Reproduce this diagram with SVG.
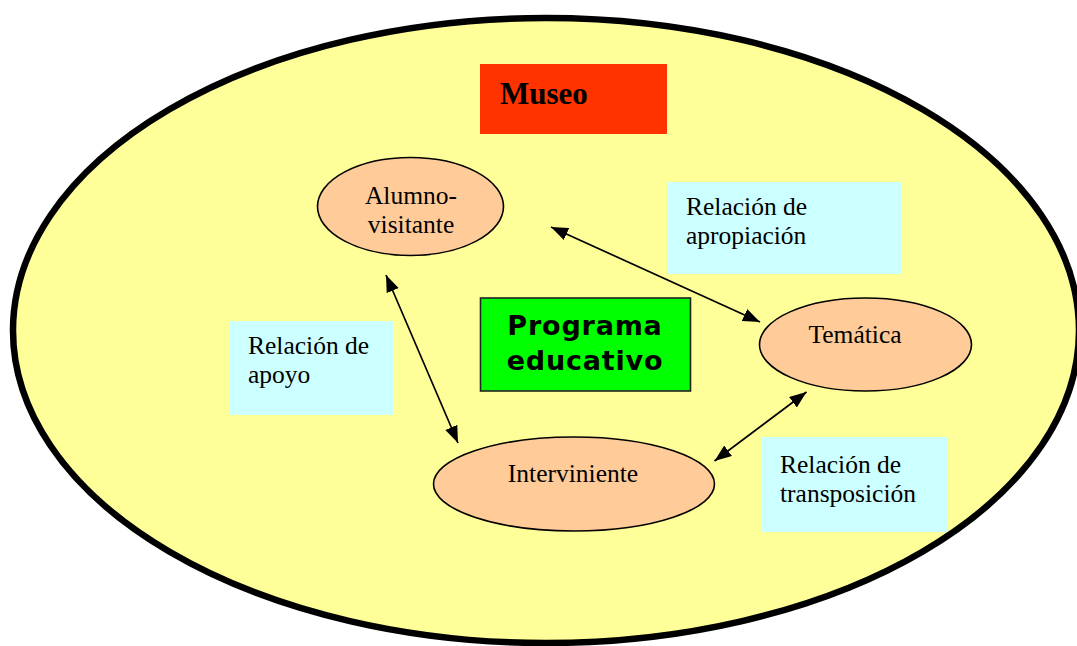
<svg xmlns="http://www.w3.org/2000/svg" width="1077" height="646" viewBox="0 0 1077 646">
<defs>
<style>
.serif{font-family:"Liberation Serif","Times New Roman",serif;font-size:25.5px;fill:#000}
.box{fill:#CCFFFF}
.node{fill:#FFCC99;stroke:#000;stroke-width:1.6}
.conn{stroke:#000;stroke-width:1.7;fill:none;marker-start:url(#ah);marker-end:url(#ah)}
</style>
<marker id="ah" markerUnits="userSpaceOnUse" markerWidth="19" markerHeight="14" refX="17" refY="6.5" orient="auto-start-reverse">
<path d="M0,0 L17,6.5 L0,13 Z" fill="#000"/>
</marker>
</defs>
<rect width="1077" height="646" fill="#fff"/>
<g id="museo-area">
<ellipse cx="546" cy="330.5" rx="533" ry="312.5" fill="#FFFF99" stroke="#000" stroke-width="6.5"/>
</g>
<g id="museo">
<rect x="480" y="64" width="187" height="70" fill="#FF3300"/>
<text x="500" y="104" font-family="Liberation Serif,Times New Roman,serif" font-weight="bold" font-size="31">Museo</text>
</g>
<g id="alumno">
<ellipse class="node" cx="410.5" cy="206.5" rx="93" ry="49"/>
<text class="serif" x="411" y="204" text-anchor="middle">Alumno-</text>
<text class="serif" x="411" y="233" text-anchor="middle">visitante</text>
</g>
<g id="programa">
<rect x="480.5" y="298" width="210" height="93" fill="#00FF00" stroke="#222" stroke-width="1.6"/>
<text x="585" y="335" text-anchor="middle" font-family="DejaVu Sans,Verdana,sans-serif" font-weight="bold" font-size="27" letter-spacing="0.8">Programa</text>
<text x="585" y="370" text-anchor="middle" font-family="DejaVu Sans,Verdana,sans-serif" font-weight="bold" font-size="27" letter-spacing="0.8">educativo</text>
</g>
<g id="tematica">
<ellipse class="node" cx="865.5" cy="344.5" rx="106" ry="46.5"/>
<text class="serif" x="855" y="343" text-anchor="middle">Temática</text>
</g>
<g id="interviniente">
<ellipse class="node" cx="574" cy="484" rx="140.5" ry="47"/>
<text class="serif" x="573" y="482" text-anchor="middle">Interviniente</text>
</g>
<g id="rel-apoyo">
<rect class="box" x="229" y="321" width="164" height="94"/>
<text class="serif" x="248" y="354">Relación de</text>
<text class="serif" x="248" y="383">apoyo</text>
</g>
<g id="rel-apropiacion">
<rect class="box" x="667" y="182" width="234" height="92"/>
<text class="serif" x="686" y="215">Relación de</text>
<text class="serif" x="686" y="244">apropiación</text>
</g>
<g id="rel-transposicion">
<rect class="box" x="761" y="437" width="187" height="95"/>
<text class="serif" x="780" y="473">Relación de</text>
<text class="serif" x="780" y="502">transposición</text>
</g>
<g id="connectors">
<line class="conn" x1="386" y1="275" x2="458" y2="443"/>
<line class="conn" x1="551" y1="227" x2="760" y2="322"/>
<line class="conn" x1="714.5" y1="461" x2="806.5" y2="392"/>
</g>
</svg>
